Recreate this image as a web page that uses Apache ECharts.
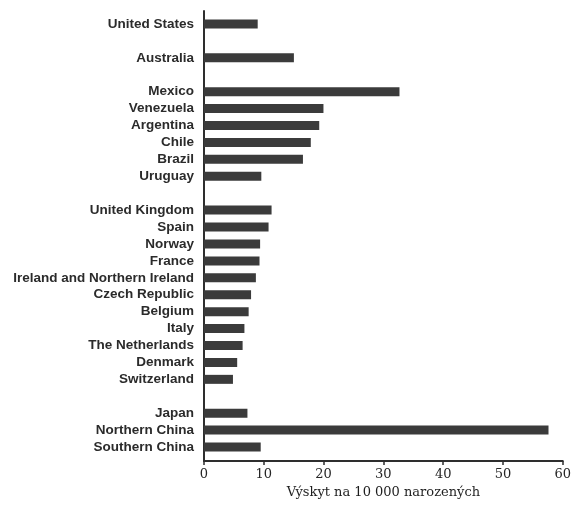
<!DOCTYPE html>
<html>
<head>
<meta charset="utf-8">
<script src="https://cdn.jsdelivr.net/npm/echarts@6/dist/echarts.min.js"></script>
<style>
  html, body { margin: 0; padding: 0; background: #ffffff; }
  #chart { width: 574px; height: 506px; }
</style>
</head>
<body>
<div id="chart"></div>
<script>
// Rows top to bottom; whitespace-only names are spacer rows between regions
const categories = [
  'United States', ' ',
  'Australia', '  ',
  'Mexico', 'Venezuela', 'Argentina', 'Chile', 'Brazil', 'Uruguay', '   ',
  'United Kingdom', 'Spain', 'Norway', 'France', 'Ireland and Northern Ireland',
  'Czech Republic', 'Belgium', 'Italy', 'The Netherlands', 'Denmark', 'Switzerland', '    ',
  'Japan', 'Northern China', 'Southern China'
];

// Incidence per 10 000 births (null on spacer rows)
const incidence = [
  8.9, null,
  14.9, null,
  32.4, 19.8, 19.1, 17.7, 16.4, 9.5, null,
  11.2, 10.7, 9.3, 9.2, 8.6,
  7.8, 7.4, 6.7, 6.4, 5.5, 4.8, null,
  7.2, 57.1, 9.4
];

const xTicks = { min: 0, max: 60, interval: 10 };
const xTitle = 'Výskyt na 10 000 narozených';

const chart = echarts.init(document.getElementById('chart'), null, { renderer: 'canvas' });

const axisColor = '#2e2e2e';

chart.setOption({
  backgroundColor: '#ffffff',
  animation: false,
  grid: [
    // bars
    { left: 204, right: 8, top: 15.5, bottom: 50.5 },
    // frame: axis lines, ticks and numbers
    { left: 204, right: 8, top: 11, bottom: 45 }
  ],
  xAxis: [
    {
      gridIndex: 0, type: 'value', min: xTicks.min, max: xTicks.max, interval: xTicks.interval,
      show: false
    },
    {
      gridIndex: 1, type: 'value', min: xTicks.min, max: xTicks.max, interval: xTicks.interval,
      position: 'bottom',
      axisLine: { show: true, lineStyle: { color: axisColor, width: 2 } },
      axisTick: { show: true, length: 4, lineStyle: { color: axisColor, width: 1.5 } },
      axisLabel: {
        margin: 7, color: '#262626', fontSize: 13,
        fontFamily: 'DejaVu Serif'
      },
      splitLine: { show: false },
      name: xTitle,
      nameLocation: 'middle',
      nameGap: 25,
      nameTextStyle: { color: '#1e1e1e', fontSize: 13, fontFamily: 'DejaVu Serif' }
    }
  ],
  yAxis: [
    {
      gridIndex: 0, type: 'category', data: categories, inverse: true,
      axisLine: { show: false }, axisTick: { show: false }, splitLine: { show: false },
      axisLabel: {
        interval: 0, hideOverlap: false,
        margin: 10, color: '#2b2b2b', fontSize: 13.5, fontWeight: 'bold',
        fontFamily: 'Liberation Sans'
      }
    },
    {
      gridIndex: 1, type: 'value', min: 0, max: 1,
      axisLine: { show: true, onZero: false, lineStyle: { color: axisColor, width: 2 } },
      axisTick: { show: false }, axisLabel: { show: false }, splitLine: { show: false }
    }
  ],
  series: [
    {
      type: 'bar',
      xAxisIndex: 0, yAxisIndex: 0,
      data: incidence,
      barWidth: 9,
      itemStyle: { color: '#3b3b3b' }
    }
  ]
});
</script>
</body>
</html>
